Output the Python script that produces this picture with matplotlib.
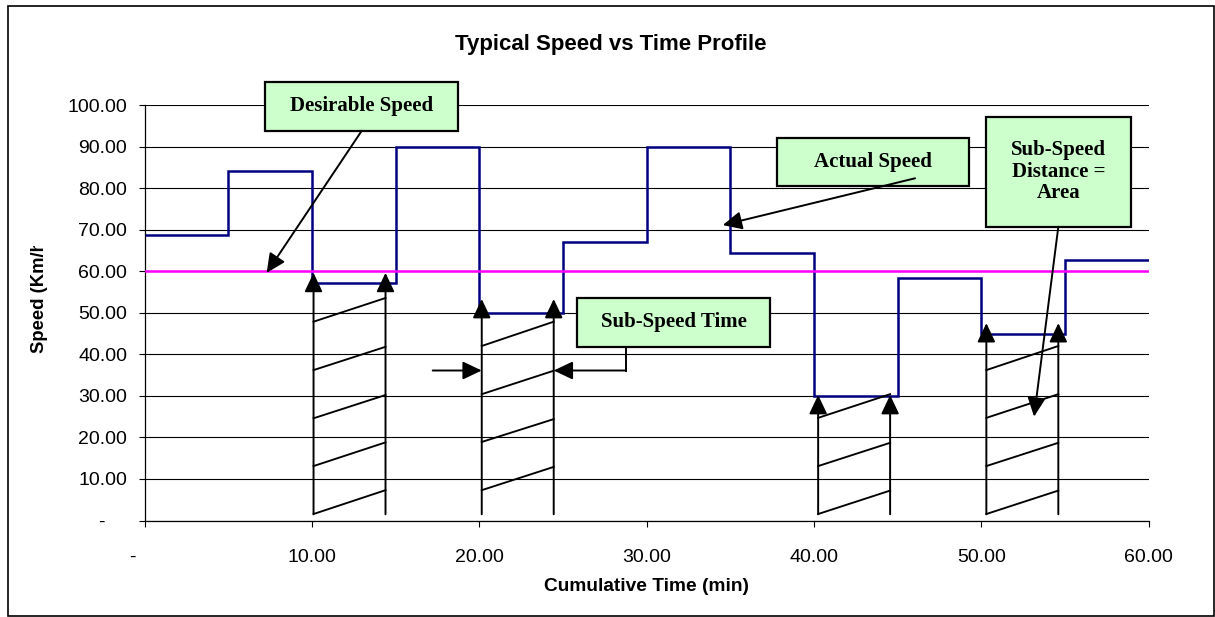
import matplotlib
matplotlib.use('Agg')
import matplotlib.pyplot as plt
from matplotlib.patches import Rectangle
from matplotlib.transforms import Bbox, TransformedBbox

# step profile (5 min segments)
time_edges = [0, 5, 10, 15, 20, 25, 30, 35, 40, 45, 50, 55, 60]
speeds = [68.7, 84.2, 57.1, 89.9, 49.9, 67.1, 89.9, 64.5, 30.0, 58.4, 45.0, 62.7]
desired_speed = 60

# sub-speed periods: arrow x positions and arrow tip heights
sub_start = [10.1, 20.15, 40.25, 50.3]
sub_end = [14.4, 24.45, 44.55, 54.6]
sub_tip = [59.6, 53.3, 30.2, 47.5]
arrow_base = 1.5

# hatch lines (height at left arrow, height at right arrow)
hatch_left = [[1.56, 13.1, 24.6, 36.2, 47.85],
              [7.3, 18.9, 30.4, 42.0],
              [1.56, 13.1, 24.7],
              [1.56, 13.1, 24.7, 36.2]]
hatch_right = [[7.3, 18.8, 30.2, 41.8, 53.55],
               [12.9, 24.4, 36.05, 47.85],
               [7.2, 18.7, 30.4],
               [7.2, 18.7, 30.4, 42.0]]

y_ticks = [0, 10, 20, 30, 40, 50, 60, 70, 80, 90, 100]
y_labels = ['-    ', '10.00', '20.00', '30.00', '40.00', '50.00', '60.00',
            '70.00', '80.00', '90.00', '100.00']
x_ticks = [0, 10, 20, 30, 40, 50, 60]
x_labels = ['-    ', '10.00', '20.00', '30.00', '40.00', '50.00', '60.00']

plt.rcParams['font.family'] = ['Liberation Sans', 'DejaVu Sans']

W, H = 1215, 617
fig = plt.figure(figsize=(W/100, H/100), dpi=100)
ax = fig.add_axes([144.5/W, 1-520.5/H, (1148.7-144.5)/W, (520.5-105)/H])
ax.set_xlim(0, 60)
ax.set_ylim(0, 100)

ax.yaxis.grid(True, color='black', lw=0.8)
ax.set_axisbelow(True)
for s in ['top', 'right']:
    ax.spines[s].set_visible(False)
ax.spines['left'].set_linewidth(0.9)
ax.spines['bottom'].set_linewidth(0.9)

ax.set_yticks(y_ticks)
ax.set_yticklabels(y_labels)
ax.set_xticks(x_ticks)
ax.set_xticklabels(x_labels)
ax.tick_params(axis='y', length=4.3, width=0.8, pad=8.2, labelsize=14)
ax.tick_params(axis='x', length=4.3, width=0.8, pad=16.5, labelsize=14)

ax.stairs(speeds, time_edges, baseline=None, color='#000080', lw=1.8, zorder=3)
ax.axhline(desired_speed, color='#FF00FF', lw=1.8, zorder=3.5)

arr = dict(arrowstyle='-|>,head_length=0.4,head_width=0.19', mutation_scale=29,
           color='black', lw=1.4, shrinkA=0, shrinkB=0)

for i in range(len(sub_start)):
    for x in (sub_start[i], sub_end[i]):
        ax.annotate('', xy=(x, sub_tip[i]), xytext=(x, arrow_base),
                    arrowprops=arr, zorder=4)
    for yl, yr in zip(hatch_left[i], hatch_right[i]):
        ax.plot([sub_start[i], sub_end[i]], [yl, yr], color='black', lw=1.35, zorder=4)

# callout boxes
boxes = [((7.2, 93.8), 11.55, 11.7, 'Desirable Speed'),
         ((37.81, 80.5), 11.47, 11.5, 'Actual Speed'),
         ((25.84, 41.83), 11.53, 11.72, 'Sub-Speed Time'),
         ((50.28, 70.7), 8.64, 26.5, 'Sub-Speed\nDistance =\nArea')]
for (x0, y0), w, h, txt in boxes:
    ax.add_patch(Rectangle((x0, y0), w, h, facecolor='#CCFFCC', edgecolor='black',
                           lw=1.6, zorder=5, clip_on=False))
    ax.text(x0 + w/2, y0 + h/2, txt, ha='center', va='center', family='Liberation Serif',
            fontweight='bold', fontsize=15, linespacing=1.12, zorder=6, clip_on=False)

# callout arrows
ax.annotate('', xy=(7.3, 59.6), xytext=(12.98, 93.8), arrowprops=arr, zorder=6,
            annotation_clip=False)
ax.annotate('', xy=(34.55, 71.1), xytext=(46.04, 82.36), arrowprops=arr, zorder=6)
ax.annotate('', xy=(53.15, 25.0), xytext=(54.6, 70.7), arrowprops=arr, zorder=6)
ax.plot([28.77, 28.77], [41.83, 36.1], color='black', lw=1.4, zorder=4)
ax.annotate('', xy=(24.45, 36.1), xytext=(28.77, 36.1), arrowprops=arr, zorder=6)
ax.annotate('', xy=(20.15, 36.1), xytext=(17.22, 36.1), arrowprops=arr, zorder=6)

# titles
fig.text(610.5/W, 1-50/H, 'Typical Speed vs Time Profile', ha='center', va='baseline',
         fontsize=16, fontweight='bold')
fig.text(646.6/W, 1-591/H, 'Cumulative Time (min)', ha='center', va='baseline',
         fontsize=13.8, fontweight='bold')
yl = fig.text(40/W, 1-353/H, 'Speed (Km/hr)', rotation=90, ha='center', va='bottom',
              fontsize=13.3, fontweight='bold')
yl.set_clip_box(TransformedBbox(Bbox.from_extents(0, 0, 1, 1-246/H), fig.transFigure))
yl.set_clip_on(True)

# outer border
fig.patches.append(Rectangle((8.3/W, 1-615.5/H), (1213.5-8.3)/W, (615.5-5.7)/H,
                             transform=fig.transFigure, fill=False, edgecolor='black',
                             lw=1.2))

fig.savefig('out.png', dpi=100)
